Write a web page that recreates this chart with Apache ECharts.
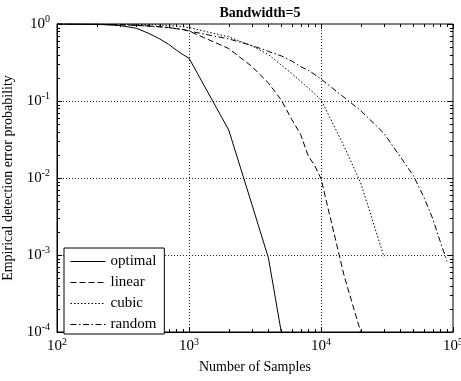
<!DOCTYPE html>
<html>
<head>
<meta charset="utf-8">
<script src="https://cdn.jsdelivr.net/npm/echarts@6/dist/echarts.min.js"></script>
<style>html,body{margin:0;padding:0;background:#fff;}#c{width:461px;height:381px;}</style>
</head>
<body>
<div id="c"></div>
<script>
const FONT = 'Liberation Serif';
const titleText = 'Bandwidth=5';
const xName = 'Number of Samples';
const yName = 'Empirical detection error probability';
const seriesNames = ['optimal', 'linear', 'cubic', 'random'];

const xMin = 100, xMax = 100000;
const yMin = 1e-4, yMax = 1;

const samplesOptimal = [100,200,300,400,500,600,700,800,900,1000,2000,3000,4000,5000];
const optimal = [1,0.99,0.955,0.88,0.75,0.64,0.545,0.46,0.40,0.36,0.042,0.0045,0.00091,0.0001];

const samplesLinear = [100,200,300,400,500,600,700,800,900,1000,2000,3000,4000,5000,6000,7000,8000,9000,10000,15000,20000];
const linear = [1,0.99,0.98,0.96,0.94,0.92,0.90,0.87,0.85,0.81,0.48,0.28,0.171,0.103,0.0575,0.037,0.0194,0.0143,0.0098,0.00053,0.0001];

const samplesCubic = [100,200,300,400,500,600,700,800,900,1000,2000,3000,4000,5000,6000,7000,8000,9000,10000,15000,20000,30000];
const cubic = [1,1,0.995,0.99,0.98,0.97,0.96,0.94,0.92,0.90,0.68,0.518,0.40,0.293,0.228,0.18,0.148,0.123,0.104,0.0256,0.0086,0.00095];

const samplesRandom = [100,200,300,400,500,600,700,800,900,1000,2000,3000,4000,5000,6000,7000,8000,9000,10000,20000,30000,40000,50000,60000,70000,80000,90000];
const random = [1,0.99,0.98,0.96,0.94,0.92,0.90,0.87,0.85,0.81,0.64,0.526,0.44,0.385,0.33,0.28,0.25,0.22,0.193,0.075,0.038,0.0187,0.0108,0.0057,0.003,0.0015,0.00083];

const dashes = {
  optimal: 'solid',
  linear: [6, 3],
  cubic: [1.5, 2],
  random: [6, 2.5, 1.5, 2.5]
};

function pairs(xs, ys) { return xs.map((x, i) => [x, ys[i]]); }

function decadeTicks(lo, hi) {
  const major = [], minor = [];
  const e0 = Math.round(Math.log10(lo)), e1 = Math.round(Math.log10(hi));
  for (let e = e0; e <= e1; e++) {
    const base = Math.pow(10, e);
    major.push(base);
    if (e < e1) for (let k = 2; k <= 9; k++) minor.push(k * base);
  }
  return { major, minor };
}
const xt = decadeTicks(xMin, xMax);
const yt = decadeTicks(yMin, yMax);

function sci(v) {
  const e = Math.round(Math.log10(v));
  return '{b|10}{s|' + e + '}';
}
const rich = {
  b: { fontFamily: FONT, fontSize: 15, color: '#000' },
  s: { fontFamily: FONT, fontSize: 10, color: '#000', padding: [0, 0, 9, 0] }
};

const gridLine = { show: true, lineStyle: { color: '#222', width: 1, type: [1, 2] }, showMinLine: false, showMaxLine: false };

const lineSeries = [
  ['optimal', samplesOptimal, optimal],
  ['linear', samplesLinear, linear],
  ['cubic', samplesCubic, cubic],
  ['random', samplesRandom, random]
].map(([name, xs, ys]) => ({
  name, type: 'line', data: pairs(xs, ys), symbol: 'none', showSymbol: false,
  lineStyle: { color: '#000', width: 1, type: dashes[name] },
  itemStyle: { color: '#000' },
  clip: true, animation: false, z: 3
}));

const tickSeries = {
  type: 'custom', silent: true, animation: false, z: 5, clip: false,
  data: [[xMin, yMin]],
  renderItem: function (params, api) {
    const cs = params.coordSys;
    const ch = [];
    const L = (x1, y1, x2, y2) => ch.push({ type: 'line', shape: { x1, y1, x2, y2 }, style: { stroke: '#000', lineWidth: 1 } });
    const top = cs.y, bot = cs.y + cs.height, left = cs.x, right = cs.x + cs.width;
    xt.major.forEach(v => { const p = Math.round(api.coord([v, yMin])[0]) + 0.5; L(p, bot, p, bot - 5); L(p, top, p, top + 5); });
    xt.minor.forEach(v => { const p = Math.round(api.coord([v, yMin])[0]) + 0.5; L(p, bot, p, bot - 3); L(p, top, p, top + 3); });
    yt.major.forEach(v => { const p = Math.round(api.coord([xMin, v])[1]) + 0.5; L(left, p, left + 5, p); L(right, p, right - 5, p); });
    yt.minor.forEach(v => { const p = Math.round(api.coord([xMin, v])[1]) + 0.5; L(left, p, left + 3, p); L(right, p, right - 3, p); });
    return { type: 'group', children: ch };
  }
};

const chart = echarts.init(document.getElementById('c'), null, { renderer: 'canvas' });
chart.setOption({
  animation: false,
  backgroundColor: '#fff',
  textStyle: { fontFamily: FONT },
  title: {
    text: titleText, left: 255, top: 1, textAlign: 'center',
    textStyle: { fontFamily: FONT, fontSize: 14, fontWeight: 'bold', color: '#000' }
  },
  grid: { left: 57, right: 8, top: 24, bottom: 49, show: true, borderColor: '#000', borderWidth: 1, backgroundColor: '#fff', containLabel: false, outerBoundsMode: 'none' },
  legend: {
    data: seriesNames, orient: 'vertical', left: 64, top: 248,
    itemWidth: 35, itemHeight: 14, itemGap: 6, padding: [6, 8, 2, 6],
    borderColor: '#000', borderWidth: 1, borderRadius: 0, backgroundColor: '#fff',
    textStyle: { fontFamily: FONT, fontSize: 15, color: '#000' },
    itemStyle: { opacity: 0, borderWidth: 0 },
    lineStyle: { width: 1, color: '#000' },
    selectedMode: false, z: 10
  },
  xAxis: [{
    type: 'log', logBase: 10, min: xMin, max: xMax,
    name: xName, nameLocation: 'middle', nameGap: 28,
    nameTextStyle: { fontFamily: FONT, fontSize: 14, color: '#000' },
    axisLine: { show: true, lineStyle: { color: '#000', width: 1 } },
    axisTick: { show: false }, minorTick: { show: false },
    axisLabel: { formatter: sci, rich, margin: 5, color: '#000', hideOverlap: false },
    splitLine: gridLine
  }],
  yAxis: [{
    type: 'log', logBase: 10, min: yMin, max: yMax,
    name: yName, nameLocation: 'middle', nameGap: 32,
    nameTextStyle: { fontFamily: FONT, fontSize: 14, color: '#000' },
    axisLine: { show: true, lineStyle: { color: '#000', width: 1 } },
    axisTick: { show: false }, minorTick: { show: false },
    axisLabel: { formatter: sci, rich, margin: 7, color: '#000' },
    splitLine: gridLine
  }],
  series: lineSeries.concat([tickSeries])
});
</script>
</body>
</html>
